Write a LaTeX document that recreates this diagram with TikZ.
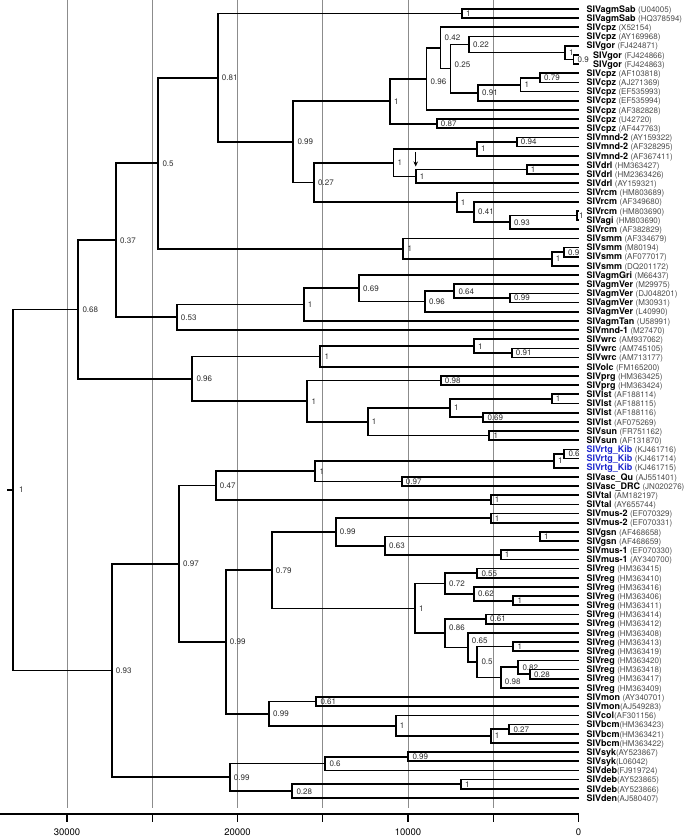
\documentclass[tikz,border=0pt]{standalone}
\usepackage{fontspec}
\setmainfont{TeX Gyre Heros}
\usetikzlibrary{arrows.meta}
\definecolor{accgray}{gray}{0.3}
\definecolor{rtgblue}{RGB}{30,40,205}
\newcommand{\accno}[1]{{\mdseries\fontsize{8}{8}\selectfont\color{accgray}#1}}

\begin{document}
\begin{tikzpicture}[x=1pt, y=-1pt,
    branch/.style={line width=1.7pt},
    gridline/.style={line width=0.6pt, black!45},
    axisline/.style={line width=1.2pt},
    leaf/.style={anchor=west, inner xsep=7.8pt, inner ysep=0pt, text height=6.5pt, text depth=0pt, font=\fontsize{9}{9}\selectfont\bfseries},
    rtg/.style={leaf, text=rtgblue},
    supp/.style={anchor=west, inner xsep=4pt, inner ysep=0pt, text height=5.8pt, text depth=0pt, font=\fontsize{8}{8}\selectfont, text=black!82},
    ticklabel/.style={font=\fontsize{9.5}{9.5}\selectfont},
    pointer/.style={line width=1pt, -{Stealth[length=5pt, width=4.5pt]}}]
\useasboundingbox (0,0) rectangle (685,837);

% time grid
\foreach \x in {67,152.25,237.5,322.75,408,493.25}
  \draw[gridline] (\x,0) -- (\x,808);

% tips and labels
\path (578.5,9.00) coordinate (t1) node[leaf] (n1) {SIVagmSab \accno{(U04005)}};
\path (578.5,18.17) coordinate (t2) node[leaf] (n2) {SIVagmSab \accno{(HQ378594)}};
\path (578.5,27.35) coordinate (t3) node[leaf] (n3) {SIVcpz \accno{(X52154)}};
\path (578.5,36.52) coordinate (t4) node[leaf] (n4) {SIVcpz \accno{(AY169968)}};
\path (578.5,45.70) coordinate (t5) node[leaf] (n5) {SIVgor \accno{(FJ424871)}};
\path (578.5,54.87) coordinate (t6) node[leaf, inner xsep=14.5pt] (n6) {SIVgor \accno{(FJ424866)}};
\path (578.5,64.04) coordinate (t7) node[leaf, inner xsep=14.5pt] (n7) {SIVgor \accno{(FJ424863)}};
\path (578.5,73.22) coordinate (t8) node[leaf] (n8) {SIVcpz \accno{(AF103818)}};
\path (578.5,82.39) coordinate (t9) node[leaf] (n9) {SIVcpz \accno{(AJ271369)}};
\path (578.5,91.57) coordinate (t10) node[leaf] (n10) {SIVcpz \accno{(EF535993)}};
\path (578.5,100.74) coordinate (t11) node[leaf] (n11) {SIVcpz \accno{(EF535994)}};
\path (578.5,109.91) coordinate (t12) node[leaf] (n12) {SIVcpz \accno{(AF382828)}};
\path (578.5,119.09) coordinate (t13) node[leaf] (n13) {SIVcpz \accno{(U42720)}};
\path (578.5,128.26) coordinate (t14) node[leaf] (n14) {SIVcpz \accno{(AF447763)}};
\path (578.5,137.44) coordinate (t15) node[leaf] (n15) {SIVmnd-2 \accno{(AY159322)}};
\path (578.5,146.61) coordinate (t16) node[leaf] (n16) {SIVmnd-2 \accno{(AF328295)}};
\path (578.5,155.78) coordinate (t17) node[leaf] (n17) {SIVmnd-2 \accno{(AF367411)}};
\path (578.5,164.96) coordinate (t18) node[leaf] (n18) {SIVdrl \accno{(HM363427)}};
\path (578.5,174.13) coordinate (t19) node[leaf] (n19) {SIVdrl \accno{(HM2363426)}};
\path (578.5,183.31) coordinate (t20) node[leaf] (n20) {SIVdrl \accno{(AY159321)}};
\path (578.5,192.48) coordinate (t21) node[leaf] (n21) {SIVrcm \accno{(HM803689)}};
\path (578.5,201.65) coordinate (t22) node[leaf] (n22) {SIVrcm \accno{(AF349680)}};
\path (578.5,210.83) coordinate (t23) node[leaf] (n23) {SIVrcm \accno{(HM803690)}};
\path (578.5,220.00) coordinate (t24) node[leaf] (n24) {SIVagi \accno{(HM803690)}};
\path (578.5,229.18) coordinate (t25) node[leaf] (n25) {SIVrcm \accno{(AF382829)}};
\path (578.5,238.35) coordinate (t26) node[leaf] (n26) {SIVsmm \accno{(AF334679)}};
\path (578.5,247.52) coordinate (t27) node[leaf] (n27) {SIVsmm \accno{(M80194)}};
\path (578.5,256.70) coordinate (t28) node[leaf] (n28) {SIVsmm \accno{(AF077017)}};
\path (578.5,265.87) coordinate (t29) node[leaf] (n29) {SIVsmm \accno{(DQ201172)}};
\path (578.5,275.05) coordinate (t30) node[leaf] (n30) {SIVagmGri \accno{(M66437)}};
\path (578.5,284.22) coordinate (t31) node[leaf] (n31) {SIVagmVer \accno{(M29975)}};
\path (578.5,293.39) coordinate (t32) node[leaf] (n32) {SIVagmVer \accno{(DJ048201)}};
\path (578.5,302.57) coordinate (t33) node[leaf] (n33) {SIVagmVer \accno{(M30931)}};
\path (578.5,311.74) coordinate (t34) node[leaf] (n34) {SIVagmVer \accno{(L40990)}};
\path (578.5,320.92) coordinate (t35) node[leaf] (n35) {SIVagmTan \accno{(U58991)}};
\path (578.5,330.09) coordinate (t36) node[leaf] (n36) {SIVmnd-1 \accno{(M27470)}};
\path (578.5,339.26) coordinate (t37) node[leaf] (n37) {SIVwrc \accno{(AM937062)}};
\path (578.5,348.44) coordinate (t38) node[leaf] (n38) {SIVwrc \accno{(AM745105)}};
\path (578.5,357.61) coordinate (t39) node[leaf] (n39) {SIVwrc \accno{(AM713177)}};
\path (578.5,366.79) coordinate (t40) node[leaf] (n40) {SIVolc \accno{(FM165200)}};
\path (578.5,375.96) coordinate (t41) node[leaf] (n41) {SIVprg \accno{(HM363425)}};
\path (578.5,385.13) coordinate (t42) node[leaf] (n42) {SIVprg \accno{(HM363424)}};
\path (578.5,394.31) coordinate (t43) node[leaf] (n43) {SIVlst \accno{(AF188114)}};
\path (578.5,403.48) coordinate (t44) node[leaf] (n44) {SIVlst \accno{(AF188115)}};
\path (578.5,412.66) coordinate (t45) node[leaf] (n45) {SIVlst \accno{(AF188116)}};
\path (578.5,421.83) coordinate (t46) node[leaf] (n46) {SIVlst \accno{(AF075269)}};
\path (578.5,431.00) coordinate (t47) node[leaf] (n47) {SIVsun \accno{(FR751162)}};
\path (578.5,440.18) coordinate (t48) node[leaf] (n48) {SIVsun \accno{(AF131870)}};
\path (578.5,449.35) coordinate (t49) node[rtg] (n49) {SIVrtg\_Kib \accno{(KJ461716)}};
\path (578.5,458.53) coordinate (t50) node[rtg] (n50) {SIVrtg\_Kib \accno{(KJ461714)}};
\path (578.5,467.70) coordinate (t51) node[rtg] (n51) {SIVrtg\_Kib \accno{(KJ461715)}};
\path (578.5,476.87) coordinate (t52) node[leaf] (n52) {SIVasc\_Qu \accno{(AJ551401)}};
\path (578.5,486.05) coordinate (t53) node[leaf] (n53) {SIVasc\_DRC \accno{(JN020276)}};
\path (578.5,495.22) coordinate (t54) node[leaf] (n54) {SIVtal \accno{(AM182197)}};
\path (578.5,504.40) coordinate (t55) node[leaf] (n55) {SIVtal \accno{(AY655744)}};
\path (578.5,513.57) coordinate (t56) node[leaf] (n56) {SIVmus-2 \accno{(EF070329)}};
\path (578.5,522.74) coordinate (t57) node[leaf] (n57) {SIVmus-2 \accno{(EF070331)}};
\path (578.5,531.92) coordinate (t58) node[leaf] (n58) {SIVgsn \accno{(AF468658)}};
\path (578.5,541.09) coordinate (t59) node[leaf] (n59) {SIVgsn \accno{(AF468659)}};
\path (578.5,550.27) coordinate (t60) node[leaf] (n60) {SIVmus-1 \accno{(EF070330)}};
\path (578.5,559.44) coordinate (t61) node[leaf] (n61) {SIVmus-1 \accno{(AY340700)}};
\path (578.5,568.61) coordinate (t62) node[leaf] (n62) {SIVreg \accno{(HM363415)}};
\path (578.5,577.79) coordinate (t63) node[leaf] (n63) {SIVreg \accno{(HM363410)}};
\path (578.5,586.96) coordinate (t64) node[leaf] (n64) {SIVreg \accno{(HM363416)}};
\path (578.5,596.14) coordinate (t65) node[leaf] (n65) {SIVreg \accno{(HM363406)}};
\path (578.5,605.31) coordinate (t66) node[leaf] (n66) {SIVreg \accno{(HM363411)}};
\path (578.5,614.48) coordinate (t67) node[leaf] (n67) {SIVreg \accno{(HM363414)}};
\path (578.5,623.66) coordinate (t68) node[leaf] (n68) {SIVreg \accno{(HM363412)}};
\path (578.5,632.83) coordinate (t69) node[leaf] (n69) {SIVreg \accno{(HM363408)}};
\path (578.5,642.01) coordinate (t70) node[leaf] (n70) {SIVreg \accno{(HM363413)}};
\path (578.5,651.18) coordinate (t71) node[leaf] (n71) {SIVreg \accno{(HM363419)}};
\path (578.5,660.35) coordinate (t72) node[leaf] (n72) {SIVreg \accno{(HM363420)}};
\path (578.5,669.53) coordinate (t73) node[leaf] (n73) {SIVreg \accno{(HM363418)}};
\path (578.5,678.70) coordinate (t74) node[leaf] (n74) {SIVreg \accno{(HM363417)}};
\path (578.5,687.88) coordinate (t75) node[leaf] (n75) {SIVreg \accno{(HM363409)}};
\path (578.5,697.05) coordinate (t76) node[leaf] (n76) {SIVmon \accno{(AY340701)}};
\path (578.5,706.22) coordinate (t77) node[leaf] (n77) {SIVmon\accno{(AJ549283)}};
\path (578.5,715.40) coordinate (t78) node[leaf] (n78) {SIVcol\accno{(AF301156)}};
\path (578.5,724.57) coordinate (t79) node[leaf] (n79) {SIVbcm\accno{(HM363423)}};
\path (578.5,733.75) coordinate (t80) node[leaf] (n80) {SIVbcm\accno{(HM363421)}};
\path (578.5,742.92) coordinate (t81) node[leaf] (n81) {SIVbcm\accno{(HM363422)}};
\path (578.5,752.09) coordinate (t82) node[leaf] (n82) {SIVsyk\accno{(AY523867)}};
\path (578.5,761.27) coordinate (t83) node[leaf] (n83) {SIVsyk\accno{(L06042)}};
\path (578.5,770.44) coordinate (t84) node[leaf] (n84) {SIVdeb\accno{(FJ919724)}};
\path (578.5,779.62) coordinate (t85) node[leaf] (n85) {SIVdeb\accno{(AY523865)}};
\path (578.5,788.79) coordinate (t86) node[leaf] (n86) {SIVdeb\accno{(AY523866)}};
\path (578.5,797.96) coordinate (t87) node[leaf] (n87) {SIVden\accno{(AJ580407)}};

% internal nodes with support values
\path (462,13.59) coordinate (sab) node[supp] (s-sab) {1};
\path (573.5,59.46) coordinate (gor2) node[supp] (s-gor2) {0.9};
\path (565,52.58) coordinate (gor1) node[supp] (s-gor1) {1};
\path (469,44.55) coordinate (c22) node[supp] (s-c22) {0.22};
\path (540,77.81) coordinate (c79) node[supp] (s-c79) {0.79};
\path (520.5,84.69) coordinate (cpz1) node[supp] (s-cpz1) {1};
\path (478,92.72) coordinate (c91) node[supp] (s-c91) {0.91};
\path (450.5,68.63) coordinate (c25) node[supp, yshift=4pt] (s-c25) {0.25};
\path (440.5,47.99) coordinate (c42) node[supp, yshift=10pt] (s-c42) {0.42};
\path (426.5,78.95) coordinate (c96) node[supp, yshift=-3pt] (s-c96) {0.96};
\path (436.7,123.67) coordinate (c87) node[supp] (s-c87) {0.87};
\path (390,101.31) coordinate (cpzA) node[supp] (s-cpzA) {1};
\path (516.7,142.02) coordinate (m94) node[supp] (s-m94) {0.94};
\path (477,148.90) coordinate (mnd) node[supp] (s-mnd) {1};
\path (526.7,169.54) coordinate (drl2) node[supp] (s-drl2) {1};
\path (415.7,176.42) coordinate (drl) node[supp] (s-drl) {1};
\path (393.5,162.66) coordinate (mdA) node[supp] (s-mdA) {1};
\path (577,215.41) coordinate (rcm5) node[supp, inner xsep=2pt] (s-rcm5) {1};
\path (510,222.30) coordinate (r93) node[supp] (s-r93) {0.93};
\path (474,211.97) coordinate (r41) node[supp] (s-r41) {0.41};
\path (456.7,202.23) coordinate (rcm) node[supp] (s-rcm) {1};
\path (314,182.44) coordinate (c27) node[supp] (s-c27) {0.27};
\path (293.3,141.88) coordinate (c99a) node[supp] (s-c99a) {0.99};
\path (217.7,77.73) coordinate (c81) node[supp] (s-c81) {0.81};
\path (564,252.11) coordinate (s9) node[supp] (s-s9) {0.9};
\path (551.7,258.99) coordinate (s1) node[supp] (s-s1) {1};
\path (403.3,248.67) coordinate (smm) node[supp] (s-smm) {1};
\path (158.3,163.20) coordinate (c5) node[supp] (s-c5) {0.5};
\path (510,297.98) coordinate (v99) node[supp] (s-v99) {0.99};
\path (454.3,291.10) coordinate (v64) node[supp] (s-v64) {0.64};
\path (425,301.42) coordinate (v96) node[supp] (s-v96) {0.96};
\path (359,288.24) coordinate (c69) node[supp] (s-c69) {0.69};
\path (303.7,304.58) coordinate (agm) node[supp] (s-agm) {1};
\path (176.7,317.34) coordinate (c53) node[supp] (s-c53) {0.53};
\path (116,240.27) coordinate (c37) node[supp] (s-c37) {0.37};
\path (511.7,353.03) coordinate (w91) node[supp] (s-w91) {0.91};
\path (474,346.15) coordinate (wrc) node[supp] (s-wrc) {1};
\path (320.3,356.47) coordinate (wo) node[supp] (s-wo) {1};
\path (440.7,380.55) coordinate (prg) node[supp] (s-prg) {0.98};
\path (551.7,398.90) coordinate (lst2) node[supp] (s-lst2) {1};
\path (483.3,417.25) coordinate (l69) node[supp] (s-l69) {0.69};
\path (450,408.07) coordinate (lst) node[supp] (s-lst) {1};
\path (489.3,435.59) coordinate (sun) node[supp] (s-sun) {1};
\path (367.7,421.83) coordinate (ls) node[supp] (s-ls) {1};
\path (307.3,401.19) coordinate (pl) node[supp] (s-pl) {1};
\path (192.3,378.83) coordinate (c96b) node[supp] (s-c96b) {0.96};
\path (78.3,309.55) coordinate (c68) node[supp] (s-c68) {0.68};
\path (564.3,453.94) coordinate (k6) node[supp] (s-k6) {0.6};
\path (554,460.82) coordinate (rtg) node[supp] (s-rtg) {1};
\path (401.7,481.46) coordinate (asc) node[supp] (s-asc) {0.97};
\path (315.3,471.14) coordinate (ra) node[supp] (s-ra) {1};
\path (490.7,499.81) coordinate (tal) node[supp] (s-tal) {1};
\path (215.7,485.48) coordinate (c47) node[supp] (s-c47) {0.47};
\path (490.7,518.16) coordinate (mus2) node[supp] (s-mus2) {1};
\path (540,536.51) coordinate (gsn) node[supp] (s-gsn) {1};
\path (500.7,554.86) coordinate (mus1) node[supp] (s-mus1) {1};
\path (385,545.68) coordinate (g63) node[supp] (s-g63) {0.63};
\path (335.7,531.92) coordinate (m99) node[supp] (s-m99) {0.99};
\path (477.3,573.20) coordinate (e55) node[supp] (s-e55) {0.55};
\path (513.3,600.73) coordinate (e1a) node[supp] (s-e1a) {1};
\path (474,593.84) coordinate (e62) node[supp] (s-e62) {0.62};
\path (445,583.52) coordinate (e72) node[supp] (s-e72) {0.72};
\path (486,619.07) coordinate (e61) node[supp] (s-e61) {0.61};
\path (513.3,646.60) coordinate (e1b) node[supp] (s-e1b) {1};
\path (530,674.11) coordinate (e28) node[supp] (s-e28) {0.28};
\path (518.3,667.23) coordinate (e82) node[supp] (s-e82) {0.82};
\path (500.7,677.56) coordinate (e98) node[supp, yshift=-4pt] (s-e98) {0.98};
\path (477.3,662.08) coordinate (e5) node[supp] (s-e5) {0.5};
\path (467.7,647.46) coordinate (e65) node[supp, yshift=7pt] (s-e65) {0.65};
\path (445,633.26) coordinate (e86) node[supp, yshift=6pt] (s-e86) {0.86};
\path (415,608.39) coordinate (reg) node[supp] (s-reg) {1};
\path (271.7,570.16) coordinate (c79b) node[supp] (s-c79b) {0.79};
\path (316.3,701.64) coordinate (mon) node[supp] (s-mon) {0.61};
\path (509.3,729.16) coordinate (b27) node[supp] (s-b27) {0.27};
\path (490.7,736.04) coordinate (bcm) node[supp] (s-bcm) {1};
\path (395.7,725.72) coordinate (cb) node[supp] (s-cb) {1};
\path (269,713.68) coordinate (n99) node[supp] (s-n99) {0.99};
\path (225.7,641.92) coordinate (c99b) node[supp] (s-c99b) {0.99};
\path (179,563.70) coordinate (c97) node[supp] (s-c97) {0.97};
\path (408.3,756.68) coordinate (syk) node[supp] (s-syk) {0.99};
\path (325.3,763.56) coordinate (k6b) node[supp] (s-k6b) {0.6};
\path (461,784.21) coordinate (deb) node[supp] (s-deb) {1};
\path (292.3,791.09) coordinate (d28) node[supp] (s-d28) {0.28};
\path (229.7,777.33) coordinate (d99) node[supp] (s-d99) {0.99};
\path (111.7,670.52) coordinate (c93) node[supp] (s-c93) {0.93};
\path (13.3,490.04) coordinate (root) node[supp, inner xsep=5.5pt] (s-root) {1};
\path (7.3,490.04) coordinate (stub);

% branches
\foreach \p/\c in {sab/t1, sab/t2, gor2/t6, gor2/t7, gor1/t5, gor1/gor2, c22/t4, c22/gor1,
    c79/t8, c79/t9, cpz1/c79, cpz1/t10, c91/cpz1, c91/t11, c25/c22, c25/c91, c42/t3, c42/c25,
    c96/c42, c96/t12, c87/t13, c87/t14, cpzA/c96, cpzA/c87, m94/t15, m94/t16, mnd/m94, mnd/t17,
    drl2/t18, drl2/t19, drl/drl2, drl/t20, mdA/mnd, mdA/drl, rcm5/t23, rcm5/t24, r93/rcm5, r93/t25,
    r41/t22, r41/r93, rcm/t21, rcm/r41, c27/mdA, c27/rcm, c99a/cpzA, c99a/c27, c81/sab, c81/c99a,
    s9/t27, s9/t28, s1/s9, s1/t29, smm/t26, smm/s1, c5/c81, c5/smm,
    v99/t32, v99/t33, v64/t31, v64/v99, v96/v64, v96/t34, c69/t30, c69/v96, agm/c69, agm/t35,
    c53/agm, c53/t36, c37/c5, c37/c53,
    w91/t38, w91/t39, wrc/t37, wrc/w91, wo/wrc, wo/t40, prg/t41, prg/t42, lst2/t43, lst2/t44,
    l69/t45, l69/t46, lst/lst2, lst/l69, sun/t47, sun/t48, ls/lst, ls/sun, pl/prg, pl/ls,
    c96b/wo, c96b/pl, c68/c37, c68/c96b,
    k6/t49, k6/t50, rtg/k6, rtg/t51, asc/t52, asc/t53, ra/rtg, ra/asc, tal/t54, tal/t55,
    c47/ra, c47/tal, mus2/t56, mus2/t57, gsn/t58, gsn/t59, mus1/t60, mus1/t61, g63/gsn, g63/mus1,
    m99/mus2, m99/g63, e55/t62, e55/t63, e1a/t65, e1a/t66, e62/t64, e62/e1a, e72/e55, e72/e62,
    e61/t67, e61/t68, e1b/t70, e1b/t71, e28/t73, e28/t74, e82/t72, e82/e28, e98/e82, e98/t75,
    e5/e1b, e5/e98, e65/t69, e65/e5, e86/e61, e86/e65, reg/e72, reg/e86, c79b/m99, c79b/reg,
    mon/t76, mon/t77, b27/t79, b27/t80, bcm/b27, bcm/t81, cb/t78, cb/bcm, n99/mon, n99/cb,
    c99b/c79b, c99b/n99, c97/c47, c97/c99b, syk/t82, syk/t83, k6b/syk, k6b/t84,
    deb/t85, deb/t86, d28/deb, d28/t87, d99/k6b, d99/d28, c93/c97, c93/d99,
    root/c68, root/c93}
  \draw[branch] (\p) |- (\c);
\draw[branch] (stub) -- (root);

% marker above SIVdrl
\path (415.7,152) coordinate (arrtop);
\path (415.7,166.5) coordinate (arrtip);
\draw[pointer] (arrtop) -- (arrtip);

% time axis
\path (0,814) coordinate (ax0);
\path (578.5,814) coordinate (ax1);
\draw[axisline] (ax0) -- (ax1);
\foreach \x in {67,152.25,237.5,322.75,408,493.25,578.5}
  \draw[axisline] (\x,814) -- (\x,822);
\node[ticklabel] (a30) at (67,832) {30000};
\node[ticklabel] (a20) at (237.5,832) {20000};
\node[ticklabel] (a10) at (408,832) {10000};
\node[ticklabel] (a0) at (578.5,832) {0};
\end{tikzpicture}
\end{document}
